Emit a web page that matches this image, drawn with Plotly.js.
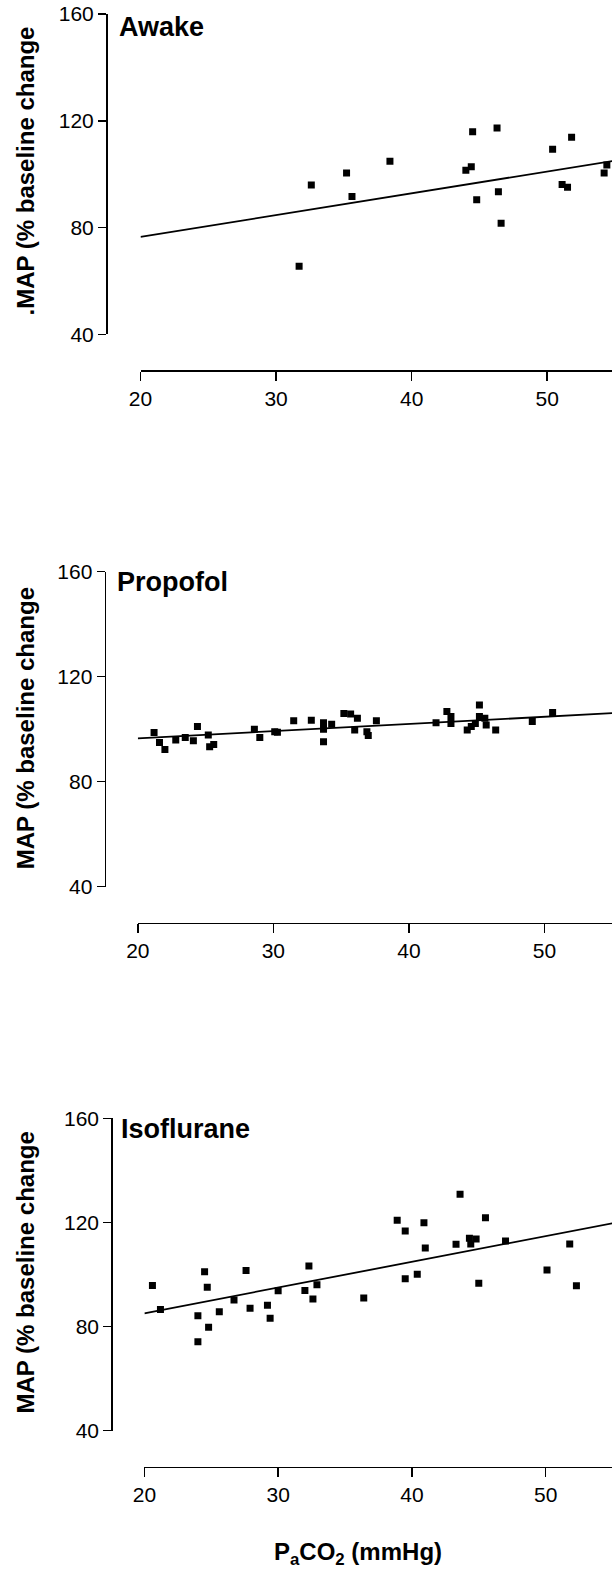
<!DOCTYPE html>
<html>
<head>
<meta charset="utf-8">
<script src="https://cdn.plot.ly/plotly-3.0.1.min.js"></script>
<style>html,body{margin:0;padding:0;background:#fff;}#chart{width:612px;height:1570px;}</style>
</head>
<body>
<div id="chart"></div>
<script>
// ---- Data ----
var panelTitles = ["Awake", "Propofol", "Isoflurane"];
var yTitles = [".MAP (% baseline change", "MAP (% baseline change", "MAP (% baseline change"];
var xTitle = "P<sub>a</sub>CO<sub>2</sub> (mmHg)";
var xTickVals = [20, 30, 40, 50];
var yTickVals = [40, 80, 120, 160];

var awakeX = [31.7, 32.6, 35.2, 35.6, 38.4, 44.0, 44.4, 44.5, 44.8, 46.3, 46.4, 46.6, 50.4, 51.1, 51.5, 51.8, 54.2, 54.4];
var awakeY = [65.5, 95.9, 100.4, 91.6, 104.8, 101.5, 102.8, 115.9, 90.4, 117.3, 93.4, 81.6, 109.3, 96.1, 95.1, 113.8, 100.4, 103.4];
var awakeFitX = [20, 54.8];
var awakeFitY = [76.5, 104.9];

var propofolX = [21.2, 21.6, 22.0, 22.8, 23.5, 24.1, 24.4, 25.2, 25.3, 25.6, 28.6, 29.0, 30.1, 30.3, 31.5, 32.8, 33.7, 33.7, 33.7, 34.3, 35.2, 35.7, 36.2, 36.0, 36.9, 37.0, 37.6, 42.0, 42.8, 43.1, 43.1, 44.3, 44.6, 44.9, 45.2, 45.2, 45.6, 45.7, 46.4, 49.1, 50.6];
var propofolY = [98.7, 94.9, 92.3, 95.9, 96.8, 95.6, 101.0, 97.8, 93.3, 94.2, 100.0, 96.8, 99.0, 98.8, 103.2, 103.4, 102.5, 100.0, 95.2, 101.9, 106.0, 105.8, 104.2, 99.7, 99.0, 97.6, 103.2, 102.5, 106.7, 104.8, 102.2, 99.7, 101.0, 102.2, 109.2, 104.8, 104.2, 101.6, 99.7, 102.9, 106.4];
var propofolFitX = [20, 55];
var propofolFitY = [96.5, 106.1];

var isoX = [20.6, 21.2, 24.0, 24.0, 24.5, 24.7, 24.8, 25.6, 26.7, 27.6, 27.9, 29.2, 29.4, 30.0, 32.0, 32.3, 32.6, 32.9, 36.4, 38.9, 39.5, 39.5, 40.4, 40.9, 41.0, 43.3, 43.6, 44.3, 44.4, 44.8, 45.0, 45.5, 47.0, 50.1, 51.8, 52.3];
var isoY = [95.8, 86.6, 84.2, 74.2, 101.1, 95.1, 79.7, 85.7, 90.2, 101.5, 87.0, 88.2, 83.2, 93.8, 93.9, 103.3, 90.6, 96.1, 91.0, 120.8, 116.7, 98.4, 100.1, 119.9, 110.2, 111.6, 130.8, 113.9, 111.7, 113.6, 96.6, 121.8, 112.9, 101.7, 111.7, 95.7];
var isoFitX = [20, 55];
var isoFitY = [85.1, 119.7];

// ---- Layout geometry (pixels in a 612 x 1570 page) ----
var W = 612, H = 1570;
var FONT = "Liberation Sans, Arial, Helvetica, sans-serif";
function px(x){ return x / W; }
function py(y){ return 1 - y / H; }

var panels = [
  {xs: awakeX, ys: awakeY, fx: awakeFitX, fy: awakeFitY, top: 14, bot: 334.3, left20: 140.5, xmax: 54.78, xaxisY: 370, yaxisX: 106, titleX: 117, titleY: 27, yTitleY: 171.5},
  {xs: propofolX, ys: propofolY, fx: propofolFitX, fy: propofolFitY, top: 571.7, bot: 886.7, left20: 137.8, xmax: 54.98, xaxisY: 922.7, yaxisX: 104.6, titleX: 115, titleY: 582, yTitleY: 728.3},
  {xs: isoX, ys: isoY, fx: isoFitX, fy: isoFitY, top: 1118.3, bot: 1430.7, left20: 144.4, xmax: 54.96, xaxisY: 1466.7, yaxisX: 111.2, titleX: 119, titleY: 1128.6, yTitleY: 1272.5}
];

var data = [];
var layout = {
  width: W, height: H,
  margin: {l: 0, r: 0, t: 0, b: 0, pad: 0},
  paper_bgcolor: "#ffffff", plot_bgcolor: "#ffffff",
  showlegend: false,
  font: {family: FONT, color: "#000"},
  annotations: []
};

panels.forEach(function(p, i){
  var n = i === 0 ? "" : String(i + 1);
  var xa = "x" + n, ya = "y" + n;
  data.push({
    type: "scatter", mode: "markers", x: p.xs, y: p.ys, xaxis: xa, yaxis: ya,
    marker: {symbol: "square", size: 7, color: "#000", line: {width: 0}},
    hoverinfo: "x+y"
  });
  data.push({
    type: "scatter", mode: "lines", x: p.fx, y: p.fy, xaxis: xa, yaxis: ya,
    line: {color: "#000", width: 1.8}, hoverinfo: "skip"
  });
  var common = {
    showgrid: false, zeroline: false, showline: true, linecolor: "#000", linewidth: 1.5,
    ticks: "outside", ticklen: 8, tickwidth: 1.5, tickcolor: "#000",
    tickfont: {family: FONT, size: 21, color: "#000"}, fixedrange: true
  };
  layout["xaxis" + n] = Object.assign({}, common, {
    domain: [px(p.left20), 1], range: [20, p.xmax], anchor: "free", position: py(p.xaxisY),
    tickmode: "array", tickvals: xTickVals, ticklen: 9
  });
  layout["yaxis" + n] = Object.assign({}, common, {
    domain: [py(p.bot), py(p.top)], range: [40, 160], anchor: "free", position: px(p.yaxisX),
    tickmode: "array", tickvals: yTickVals
  });
  layout.annotations.push({
    xref: "paper", yref: "paper", x: px(p.titleX), y: py(p.titleY), xanchor: "left", yanchor: "middle",
    text: "<b>" + panelTitles[i] + "</b>", showarrow: false, font: {family: FONT, size: 27, color: "#000"}
  });
  layout.annotations.push({
    xref: "paper", yref: "paper", x: px(25), y: py(p.yTitleY), xanchor: "center", yanchor: "middle",
    textangle: -90, text: "<b>" + yTitles[i] + "</b>", showarrow: false,
    font: {family: FONT, size: 24, color: "#000"}
  });
});

layout.annotations.push({
  xref: "paper", yref: "paper", x: px(358), y: py(1553), xanchor: "center", yanchor: "middle",
  text: "<b>" + xTitle + "</b>", showarrow: false, font: {family: FONT, size: 24, color: "#000"}
});

Plotly.newPlot("chart", data, layout, {displayModeBar: false, staticPlot: true});
</script>
</body>
</html>
